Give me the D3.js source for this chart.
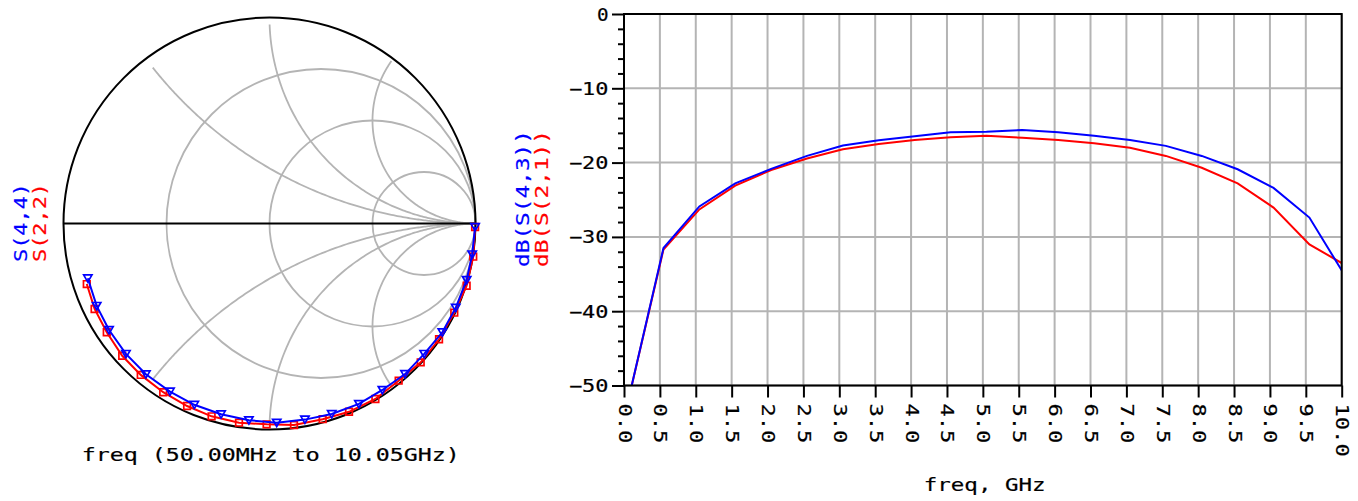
<!DOCTYPE html>
<html><head><meta charset="utf-8">
<script src="https://cdn.jsdelivr.net/npm/d3@7"></script>
<style>html,body{margin:0;padding:0;background:#fff;overflow:hidden}</style>
</head><body>
<svg id="c" width="1358" height="501"></svg>
<script>
// ---------- data ----------
const freqGHz = [0.05, 0.55, 1.05, 1.55, 2.05, 2.55, 3.05, 3.55, 4.05, 4.55, 5.05, 5.55, 6.05, 6.55, 7.05, 7.55, 8.05, 8.55, 9.05, 9.55, 10.05];
const dbS43 = [-52.4, -31.5, -25.9, -22.8, -20.85, -19.1, -17.7, -17.0, -16.45, -15.9, -15.85, -15.6, -15.9, -16.4, -16.95, -17.75, -19.1, -20.9, -23.4, -27.4, -35.3];
const dbS21 = [-52.4, -31.7, -26.3, -23.1, -21.0, -19.45, -18.2, -17.5, -16.95, -16.6, -16.4, -16.65, -16.95, -17.4, -18.0, -19.1, -20.7, -22.8, -26.05, -31.0, -33.8];

const s44Re = [-0.882, -0.839, -0.779, -0.697, -0.600, -0.483, -0.365, -0.235, -0.100, 0.035, 0.172, 0.302, 0.434, 0.548, 0.658, 0.751, 0.839, 0.904, 0.957, 0.984, 0.998];
const s44Im = [-0.266, -0.400, -0.517, -0.633, -0.732, -0.816, -0.880, -0.926, -0.955, -0.967, -0.952, -0.925, -0.876, -0.808, -0.731, -0.633, -0.528, -0.409, -0.274, -0.150, -0.017];
const s22Re = [-0.887, -0.849, -0.790, -0.715, -0.625, -0.516, -0.400, -0.281, -0.148, -0.014, 0.119, 0.258, 0.386, 0.514, 0.627, 0.734, 0.823, 0.897, 0.957, 0.989, 0.998];
const s22Im = [-0.294, -0.415, -0.528, -0.642, -0.735, -0.819, -0.886, -0.936, -0.967, -0.975, -0.978, -0.950, -0.914, -0.852, -0.763, -0.674, -0.562, -0.433, -0.302, -0.161, -0.017];

const xTickValues = [0, 0.5, 1, 1.5, 2, 2.5, 3, 3.5, 4, 4.5, 5, 5.5, 6, 6.5, 7, 7.5, 8, 8.5, 9, 9.5, 10];
const yMajorTicks = [-50, -40, -30, -20, -10, 0];
const yMinorTicks = [-48, -46, -44, -42, -38, -36, -34, -32, -28, -26, -24, -22, -18, -16, -14, -12, -8, -6, -4, -2];
const smithResistances = [1/3, 1, 3];
const smithReactances = [0.5, 1, 2, -0.5, -1, -2];

const smithTitle = "freq (50.00MHz to 10.05GHz)";
const rectXTitle = "freq, GHz";
const smithLabels = ["S(4,4)", "S(2,2)"];
const rectLabels = ["dB(S(4,3))", "dB(S(2,1))"];

// ---------- setup ----------
const FONT = "DejaVu Sans Mono";
const BLUE = "#0000ff", RED = "#ff0000", GRID = "#b4b4b4";
const svg = d3.select("#c");

function styledText(sel, str, len, size, col) {
  sel.text(str).attr("font-family", FONT).attr("font-size", size || 17)
     .attr("textLength", len).attr("lengthAdjust", "spacingAndGlyphs")
     .attr("fill", col).attr("stroke", col).attr("stroke-width", 0.2);
  return sel;
}

// ---------- Smith chart ----------
const cx = 269.5, cy = 223.5, R = 206;
const gx = d3.scaleLinear().domain([-1, 1]).range([cx - R, cx + R]);
const gy = d3.scaleLinear().domain([-1, 1]).range([cy + R, cy - R]);
const smith = svg.append("g");

// resistance circles
smith.selectAll("circle.r").data(smithResistances).join("circle")
  .attr("cx", r => gx(r / (1 + r))).attr("cy", gy(0))
  .attr("r", r => gx(1 / (1 + r)) - gx(0))
  .attr("fill", "none").attr("stroke", GRID).attr("stroke-width", 1.8);

// reactance arcs
function gamma(r, x) {
  const a = r - 1, b = x, c = r + 1, d = x;
  const den = c * c + d * d;
  return [(a * c + b * d) / den, (b * c - a * d) / den];
}
const rSamples = d3.range(0, 1.0001, 0.0025).map(t => 0.035 * Math.pow(3e5, t));
const arcLine = d3.line().x(p => gx(p[0])).y(p => gy(p[1]));
smith.selectAll("path.x").data(smithReactances).join("path")
  .attr("d", x => arcLine(rSamples.map(r => gamma(r, x))))
  .attr("fill", "none").attr("stroke", GRID).attr("stroke-width", 1.8);

// outer circle and real axis
smith.append("circle").attr("cx", gx(0)).attr("cy", gy(0)).attr("r", gx(1) - gx(0))
  .attr("fill", "none").attr("stroke", "#000").attr("stroke-width", 2);
smith.append("line").attr("x1", gx(-1)).attr("x2", gx(1)).attr("y1", gy(0)).attr("y2", gy(0))
  .attr("stroke", "#000").attr("stroke-width", 2);

// traces
const smithLine = d3.line().x(i => gx(i[0])).y(i => gy(i[1]));
const s22pts = s22Re.map((v, i) => [v, s22Im[i]]);
const s44pts = s44Re.map((v, i) => [v, s44Im[i]]);
smith.append("path").attr("d", smithLine(s22pts)).attr("fill", "none").attr("stroke", RED).attr("stroke-width", 2);
smith.selectAll("path.sq").data(s22pts).join("path")
  .attr("d", d3.symbol(d3.symbolSquare, 44)())
  .attr("transform", p => `translate(${gx(p[0])},${gy(p[1])})`)
  .attr("fill", "none").attr("stroke", RED).attr("stroke-width", 1.7);
smith.append("path").attr("d", smithLine(s44pts)).attr("fill", "none").attr("stroke", BLUE).attr("stroke-width", 2);
smith.selectAll("path.tri").data(s44pts).join("path")
  .attr("d", d3.symbol(d3.symbolTriangle, 30)())
  .attr("transform", p => `translate(${gx(p[0])},${gy(p[1]) - 1})rotate(180)`)
  .attr("fill", "none").attr("stroke", BLUE).attr("stroke-width", 1.7);

// labels
styledText(svg.append("text").attr("x", 81.7).attr("y", 460.5), smithTitle, 378, 18, "#000");
[[smithLabels[0], BLUE, 20.5], [smithLabels[1], RED, 39]].forEach(([t, col, x]) => {
  styledText(svg.append("text").attr("transform", `translate(${x},222.5)rotate(-90)`)
    .attr("text-anchor", "middle").attr("dominant-baseline", "central"), t, 79, 18, col);
});

// ---------- Rectangular chart ----------
const x = d3.scaleLinear().domain([0, 10]).range([624, 1341.7]);
const y = d3.scaleLinear().domain([-50, 0]).range([385.5, 14]);
const rect = svg.append("g");

// grid
rect.selectAll("line.vg").data(xTickValues).join("line")
  .attr("x1", d => x(d)).attr("x2", d => x(d)).attr("y1", y(-50)).attr("y2", y(0))
  .attr("stroke", GRID).attr("stroke-width", 2);
rect.selectAll("line.hg").data(yMajorTicks).join("line")
  .attr("x1", x(0)).attr("x2", x(10)).attr("y1", d => y(d)).attr("y2", d => y(d))
  .attr("stroke", GRID).attr("stroke-width", 2);

// clip + traces
svg.append("defs").append("clipPath").attr("id", "plotclip").append("rect")
  .attr("x", x(0)).attr("y", y(0)).attr("width", x(10) - x(0)).attr("height", y(-50) - y(0));
const traceLine = d3.line().x((d, i) => x(freqGHz[i])).y(d => y(d));
const traces = rect.append("g").attr("clip-path", "url(#plotclip)");
traces.append("path").attr("d", traceLine(dbS21)).attr("fill", "none").attr("stroke", RED).attr("stroke-width", 2);
traces.append("path").attr("d", traceLine(dbS43)).attr("fill", "none").attr("stroke", BLUE).attr("stroke-width", 2);

// axes
const yMinorAxis = rect.append("g").attr("transform", `translate(${x(0)},0)`)
  .call(d3.axisLeft(y).tickValues(yMinorTicks).tickSize(6).tickFormat(""));
const yMajorAxis = rect.append("g").attr("transform", `translate(${x(0)},0)`)
  .call(d3.axisLeft(y).tickValues(yMajorTicks).tickSize(12).tickPadding(3.5).tickFormat(d3.format("d")));
const xAxis = rect.append("g").attr("transform", `translate(0,${y(-50)})`)
  .call(d3.axisBottom(x).tickValues(xTickValues).tickSize(12).tickFormat(d3.format(".1f")));
[yMinorAxis, yMajorAxis, xAxis].forEach(a => {
  a.select(".domain").remove();
  a.selectAll(".tick line").attr("stroke", "#000").attr("stroke-width", 2);
});
yMajorAxis.selectAll(".tick text").each(function () {
  const t = d3.select(this);
  const s = t.text();
  styledText(t, s, s.length * 14 - 2.4, 17, "#000").attr("dy", null).attr("dominant-baseline", "central");
});
xAxis.selectAll(".tick text").each(function () {
  const t = d3.select(this);
  const s = t.text();
  styledText(t, s, s.length * 13.3, 17, "#000")
    .attr("transform", "rotate(90)").attr("x", 18).attr("y", 0).attr("dy", null)
    .attr("text-anchor", "start").attr("dominant-baseline", "central");
});

// frame
rect.append("rect").attr("x", x(0)).attr("y", y(0)).attr("width", x(10) - x(0)).attr("height", y(-50) - y(0))
  .attr("fill", "none").attr("stroke", "#000").attr("stroke-width", 2);

// titles
styledText(svg.append("text").attr("x", 923.8).attr("y", 490.5), rectXTitle, 121.7, 18, "#000");
[[rectLabels[0], BLUE, 522.5], [rectLabels[1], RED, 541]].forEach(([t, col, xx]) => {
  styledText(svg.append("text").attr("transform", `translate(${xx},198.5)rotate(-90)`)
    .attr("text-anchor", "middle").attr("dominant-baseline", "central"), t, 137, 18, col);
});
</script>
</body></html>
